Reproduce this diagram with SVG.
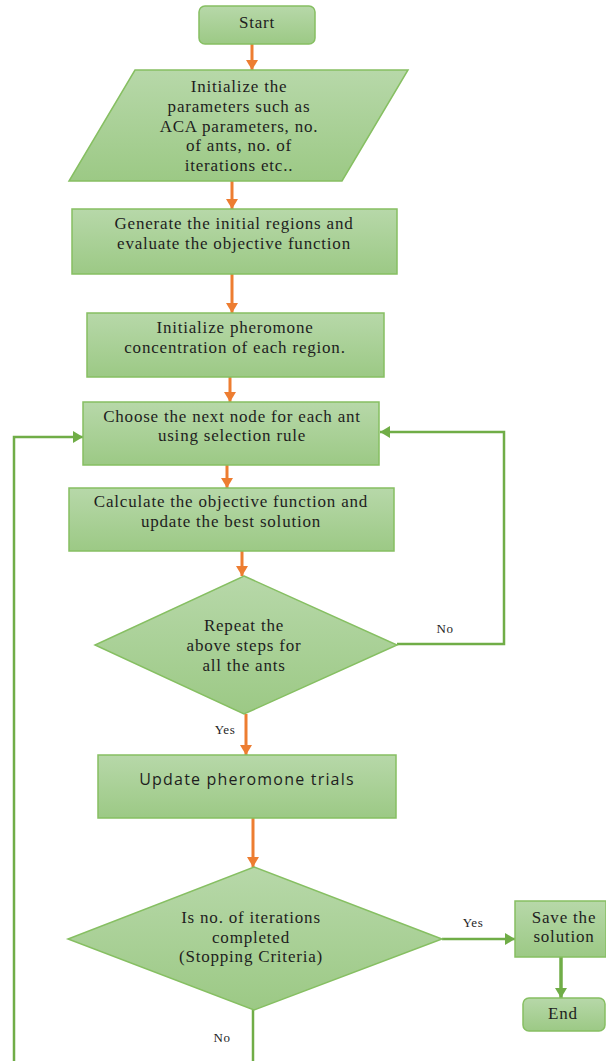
<svg xmlns="http://www.w3.org/2000/svg" width="606" height="1061" viewBox="0 0 606 1061">
<defs>
<linearGradient id="g" x1="0" y1="0" x2="0" y2="1">
<stop offset="0" stop-color="#b7d8a9"/>
<stop offset="1" stop-color="#9cc985"/>
</linearGradient>
<marker id="ao" markerUnits="userSpaceOnUse" markerWidth="14" markerHeight="12" refX="10" refY="6" orient="auto">
<path d="M0,0 L10,6 L0,12 Z" fill="#ed7d31"/>
</marker>
<marker id="ag" markerUnits="userSpaceOnUse" markerWidth="14" markerHeight="12" refX="10" refY="6" orient="auto">
<path d="M0,0 L10,6 L0,12 Z" fill="#70ad47"/>
</marker>
</defs>
<style>
.n{fill:url(#g);stroke:#86bf62;stroke-width:1.5}
.t{font-family:"Liberation Serif","Times New Roman",serif;font-size:17px;letter-spacing:0.8px;fill:#1e1e1e;text-anchor:middle}
.s{font-family:"Open Sans","Liberation Sans",sans-serif;font-size:16px;letter-spacing:1.2px;fill:#1e1e1e;text-anchor:middle}
.l{font-family:"Liberation Serif","Times New Roman",serif;font-size:13px;letter-spacing:0.5px;fill:#1e1e1e;text-anchor:middle}
.o{stroke:#ed7d31;stroke-width:3;fill:none;marker-end:url(#ao)}
.gr{stroke:#70ad47;stroke-width:2.5;fill:none}
.ga{stroke:#70ad47;stroke-width:2.5;fill:none;marker-end:url(#ag)}
</style>
<g id="connectors">
<line class="o" x1="252" y1="44" x2="252" y2="70"/>
<line class="o" x1="232" y1="181" x2="232" y2="209"/>
<line class="o" x1="232" y1="274" x2="232" y2="313"/>
<line class="o" x1="230" y1="377" x2="230" y2="402"/>
<line class="o" x1="227" y1="465" x2="227" y2="488"/>
<line class="o" x1="242" y1="551" x2="242" y2="576"/>
<line class="o" x1="246" y1="714" x2="246" y2="755"/>
<line class="o" x1="253" y1="818" x2="253" y2="867"/>
<polyline class="ga" points="397,644 504,644 504,432 380,432"/>
<line class="ga" x1="442" y1="939" x2="515" y2="939"/>
<line class="ga" x1="561" y1="957" x2="561" y2="998" style="stroke-width:3.5"/>
<line class="gr" x1="253" y1="1010" x2="253" y2="1061"/>
<polyline class="ga" points="14,1061 14,437 83,437"/>
<text class="l" x="445" y="633">No</text>
<text class="l" x="225" y="734">Yes</text>
<text class="l" x="473" y="927">Yes</text>
<text class="l" x="222" y="1042">No</text>
</g>
<g id="start">
<rect class="n" x="199" y="6" width="116" height="38" rx="6"/>
<text class="t" x="257" y="28">Start</text>
</g>
<g id="init-params">
<polygon class="n" points="135,70 408,70 342,181 69,181"/>
<text class="t" x="239" y="92">Initialize the</text>
<text class="t" x="239" y="112">parameters such as</text>
<text class="t" x="239" y="132">ACA parameters, no.</text>
<text class="t" x="239" y="151">of ants, no. of</text>
<text class="t" x="239" y="171">iterations etc..</text>
</g>
<g id="generate">
<rect class="n" x="72" y="209" width="325" height="65"/>
<text class="t" x="234" y="229">Generate the initial regions and</text>
<text class="t" x="234" y="249">evaluate the objective function</text>
</g>
<g id="init-pheromone">
<rect class="n" x="87" y="313" width="297" height="64"/>
<text class="t" x="235" y="333">Initialize pheromone</text>
<text class="t" x="235" y="353">concentration of each region.</text>
</g>
<g id="choose">
<rect class="n" x="83" y="402" width="296" height="63"/>
<text class="t" x="232" y="422">Choose the next node for each ant</text>
<text class="t" x="232" y="441">using selection rule</text>
</g>
<g id="calculate">
<rect class="n" x="69" y="488" width="325" height="63"/>
<text class="t" x="231" y="507">Calculate the objective function and</text>
<text class="t" x="231" y="527">update the best solution</text>
</g>
<g id="repeat">
<polygon class="n" points="244,576 397,645 244,714 95,645"/>
<text class="t" x="244" y="631">Repeat the</text>
<text class="t" x="244" y="651">above steps for</text>
<text class="t" x="244" y="671">all the ants</text>
</g>
<g id="update">
<rect class="n" x="98" y="755" width="298" height="63"/>
<text class="s" x="247" y="785">Update pheromone trials</text>
</g>
<g id="iterations">
<polygon class="n" points="254,867 442,939 254,1010 68,939"/>
<text class="t" x="251" y="923">Is no. of iterations</text>
<text class="t" x="251" y="943">completed</text>
<text class="t" x="251" y="962">(Stopping Criteria)</text>
</g>
<g id="save">
<rect class="n" x="515" y="901" width="91" height="56"/>
<text class="t" x="564" y="923">Save the</text>
<text class="t" x="564" y="942">solution</text>
</g>
<g id="end">
<rect class="n" x="523" y="998" width="82" height="33" rx="6"/>
<text class="t" x="563" y="1019">End</text>
</g>
</svg>
